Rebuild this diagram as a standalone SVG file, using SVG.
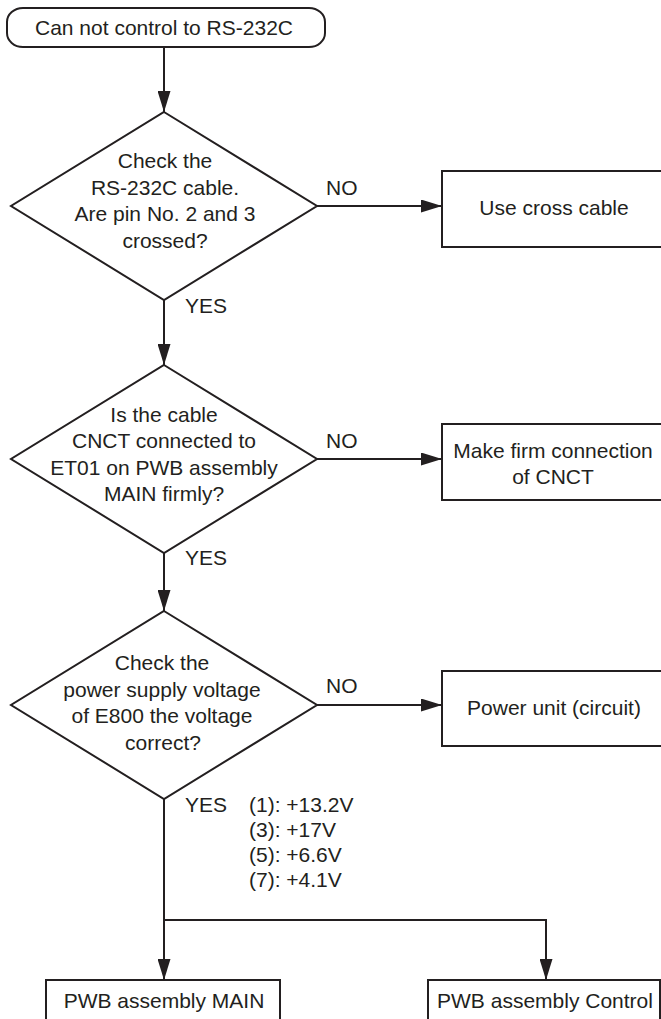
<svg xmlns="http://www.w3.org/2000/svg" width="661" height="1019" viewBox="0 0 661 1019">
<style>
.shape{fill:#fff;stroke:#231f20;stroke-width:2}
.conn{fill:none;stroke:#231f20;stroke-width:2}
text{font-family:"Liberation Sans",Arial,sans-serif;font-size:21px;fill:#231f20}
.c{text-anchor:middle}
</style>
<defs>
<marker id="ah" markerUnits="userSpaceOnUse" markerWidth="22" markerHeight="13" refX="21" refY="6.5" orient="auto">
<path d="M0,0 L21,6.5 L0,13 z" fill="#231f20"/>
</marker>
</defs>
<rect width="661" height="1019" fill="#fff"/>
<g id="connectors">
<path class="conn" d="M164,47 V112" marker-end="url(#ah)"/>
<path class="conn" d="M317,206 H442" marker-end="url(#ah)"/>
<path class="conn" d="M164,300 V365" marker-end="url(#ah)"/>
<path class="conn" d="M317,459 H442" marker-end="url(#ah)"/>
<path class="conn" d="M164,553 V611" marker-end="url(#ah)"/>
<path class="conn" d="M317,705 H442" marker-end="url(#ah)"/>
<path class="conn" d="M164,799 V980" marker-end="url(#ah)"/>
<path class="conn" d="M164,920 H546 V980" marker-end="url(#ah)"/>
<text x="326" y="195">NO</text>
<text x="326" y="448">NO</text>
<text x="326" y="693">NO</text>
<text x="185" y="313">YES</text>
<text x="185" y="565">YES</text>
<text x="185" y="812">YES</text>
<text x="249" y="812">(1): +13.2V</text>
<text x="249" y="837">(3): +17V</text>
<text x="249" y="862">(5): +6.6V</text>
<text x="249" y="887">(7): +4.1V</text>
</g>
<g id="start">
<rect class="shape" x="7" y="8" width="318" height="39" rx="16" ry="14"/>
<text class="c" x="164" y="35">Can not control to RS-232C</text>
</g>
<g id="check-cable">
<polygon class="shape" points="164,112 317,206 164,300 11,206"/>
<text class="c" x="165" y="168">Check the</text>
<text class="c" x="165" y="195">RS-232C cable.</text>
<text class="c" x="165" y="221">Are pin No. 2 and 3</text>
<text class="c" x="165" y="248">crossed?</text>
</g>
<g id="use-cross-cable">
<rect class="shape" x="442" y="171" width="224" height="76"/>
<text class="c" x="554" y="215">Use cross cable</text>
</g>
<g id="check-cnct">
<polygon class="shape" points="164,365 317,459 164,553 11,459"/>
<text class="c" x="164" y="422">Is the cable</text>
<text class="c" x="164" y="448">CNCT connected to</text>
<text class="c" x="164" y="475">ET01 on PWB assembly</text>
<text class="c" x="164" y="501">MAIN firmly?</text>
</g>
<g id="firm-connection">
<rect class="shape" x="442" y="424" width="224" height="76"/>
<text class="c" x="553" y="458">Make firm connection</text>
<text class="c" x="553" y="484">of CNCT</text>
</g>
<g id="check-voltage">
<polygon class="shape" points="164,611 317,705 164,799 11,705"/>
<text class="c" x="162" y="670">Check the</text>
<text class="c" x="162" y="697">power supply voltage</text>
<text class="c" x="162" y="723">of E800 the voltage</text>
<text class="c" x="163" y="750">correct?</text>
</g>
<g id="power-unit">
<rect class="shape" x="442" y="671" width="224" height="75"/>
<text class="c" x="554" y="715">Power unit (circuit)</text>
</g>
<g id="pwb-main">
<rect class="shape" x="46" y="980" width="234" height="45"/>
<text class="c" x="164" y="1008">PWB assembly MAIN</text>
</g>
<g id="pwb-control">
<rect class="shape" x="428" y="980" width="232" height="45"/>
<text class="c" x="545" y="1008">PWB assembly Control</text>
</g>
</svg>
